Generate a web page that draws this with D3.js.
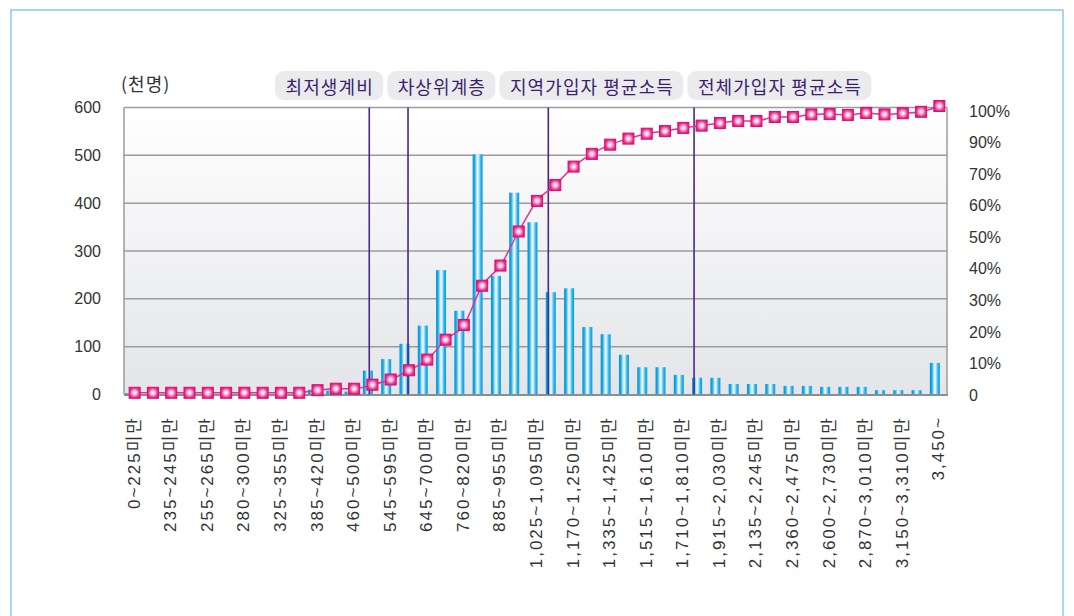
<!DOCTYPE html>
<html>
<head>
<meta charset="utf-8">
<script src="https://cdn.jsdelivr.net/npm/d3@7"></script>
<style>
  html, body { margin: 0; padding: 0; background: #fff; }
  svg { display: block; }
</style>
</head>
<body>
<svg id="chart" width="1074" height="616"></svg>
<script>
// ── Data ──
// income brackets (만원), every other one is labelled on the axis
const categories = [
  "0~225미만", "225~235미만", "235~245미만", "245~255미만", "255~265미만",
  "265~280미만", "280~300미만", "300~325미만", "325~355미만", "355~385미만",
  "385~420미만", "420~460미만", "460~500미만", "500~545미만", "545~595미만",
  "595~645미만", "645~700미만", "700~760미만", "760~820미만", "820~885미만",
  "885~955미만", "955~1,025미만", "1,025~1,095미만", "1,095~1,170미만", "1,170~1,250미만",
  "1,250~1,335미만", "1,335~1,425미만", "1,425~1,515미만", "1,515~1,610미만", "1,610~1,710미만",
  "1,710~1,810미만", "1,810~1,915미만", "1,915~2,030미만", "2,030~2,135미만", "2,135~2,245미만",
  "2,245~2,360미만", "2,360~2,475미만", "2,475~2,600미만", "2,600~2,730미만", "2,730~2,870미만",
  "2,870~3,010미만", "3,010~3,150미만", "3,150~3,310미만", "3,310~3,450미만", "3,450~"
];

// persons (천명)
const counts = [
  3, 1, 1, 1, 1, 1, 1, 1, 1, 1,
  10, 8, 6, 50, 74, 106, 144, 260, 175, 502,
  248, 422, 360, 214, 222, 141, 126, 83, 57, 57,
  41, 35, 35, 22, 22, 22, 18, 18, 16, 16,
  16, 9, 9, 9, 66
];

// cumulative share (%)
const cumulativePct = [
  0.6, 0.6, 0.6, 0.6, 0.6, 0.6, 0.6, 0.6, 0.6, 0.6,
  1.5, 2.0, 2.0, 3.4, 5.2, 8.4, 12.1, 19.0, 24.1, 37.7,
  44.7, 56.5, 67.1, 72.6, 79.0, 83.4, 86.6, 88.7, 90.4, 91.3,
  92.4, 93.2, 94.1, 94.8, 94.8, 96.2, 96.2, 97.1, 97.2, 96.9,
  97.6, 97.1, 97.5, 98.0, 100
];

const leftTicks = [0, 100, 200, 300, 400, 500, 600];
const rightTickLabels = ["0", "10%", "20%", "30%", "40%", "50%", "60%", "70%", "90%", "100%"];

// reference incomes, given as position on the bracket axis (in brackets)
const refLabels = ["최저생계비", "차상위계층", "지역가입자 평균소득", "전체가입자 평균소득"];
const refIndex = [13.41, 15.53, 23.2, 31.17];

// ── Layout ──
const plot = { left: 124, right: 947, top: 107.5, bottom: 394.5 };
const FONT = "'Liberation Sans', Arial, 'Noto Sans CJK KR', sans-serif";
const KFONT = "'Noto Sans CJK KR', 'Noto Sans', sans-serif";

const svg = d3.select("#chart");
const defs = svg.append("defs");

// ── Gradients ──
const bg = defs.append("linearGradient").attr("id", "plotBg")
  .attr("x1", 0).attr("y1", 0).attr("x2", 0).attr("y2", 1);
bg.append("stop").attr("offset", "0%").attr("stop-color", "#ffffff");
bg.append("stop").attr("offset", "100%").attr("stop-color", "#e4e5e8");

const barGrad = defs.append("linearGradient").attr("id", "barGrad")
  .attr("x1", 0).attr("y1", 0).attr("x2", 1).attr("y2", 0);
[["0%", "#0a93d6"], ["18%", "#12a6e6"], ["40%", "#bfe8f9"], ["52%", "#f6fcff"],
 ["66%", "#9adcf6"], ["84%", "#22ade8"], ["100%", "#0a9ee0"]]
  .forEach(([o, c]) => barGrad.append("stop").attr("offset", o).attr("stop-color", c));

const mkGrad = defs.append("radialGradient").attr("id", "mkGrad")
  .attr("cx", "50%").attr("cy", "50%").attr("r", "60%");
[["0%", "#ffffff"], ["30%", "#f9c6df"], ["70%", "#e8398f"], ["100%", "#e0137a"]]
  .forEach(([o, c]) => mkGrad.append("stop").attr("offset", o).attr("stop-color", c));

// ── Outer frame ──
svg.append("rect")
  .attr("x", 11).attr("y", 10)
  .attr("width", 1052).attr("height", 640)
  .style("fill", "none")
  .style("stroke", "#8ccaee")
  .style("stroke-width", 1.5);

// ── Scales ──
const x = d3.scaleBand()
  .domain(categories)
  .range([plot.left, plot.right]);

const xIdx = d3.scaleLinear()
  .domain([0, categories.length])
  .range([plot.left, plot.right]);

const y = d3.scaleLinear()
  .domain([0, 600])
  .range([plot.bottom, plot.top]);

const yPct = d3.scaleLinear()
  .domain([0, 100])
  .range([plot.bottom, plot.top - 1.5]);

const yRightTicks = d3.scalePoint()
  .domain(rightTickLabels)
  .range([plot.bottom + 0.5, plot.top + 3.5]);

// ── Plot background and grid ──
svg.append("rect")
  .attr("x", plot.left).attr("y", plot.top)
  .attr("width", plot.right - plot.left)
  .attr("height", plot.bottom - plot.top)
  .style("fill", "url(#plotBg)");

svg.append("g")
  .selectAll("line")
  .data(leftTicks.filter(d => d > 0))
  .join("line")
  .attr("x1", plot.left).attr("x2", plot.right)
  .attr("y1", d => y(d)).attr("y2", d => y(d))
  .style("stroke", "#9c9c9e")
  .style("stroke-width", 1.5);

// left / right borders
svg.append("path")
  .attr("d", `M${plot.left},${plot.bottom}V${plot.top}M${plot.right},${plot.top}V${plot.bottom}`)
  .style("stroke", "#9c9c9e")
  .style("stroke-width", 1.5)
  .style("fill", "none");

// ── Bars ──
const barW = 10;
svg.append("g")
  .selectAll("rect")
  .data(counts)
  .join("rect")
  .attr("x", (d, i) => x(categories[i]) + x.bandwidth() / 2 - barW / 2 - 3)
  .attr("y", d => y(d))
  .attr("width", barW)
  .attr("height", d => plot.bottom - y(d))
  .style("fill", "url(#barGrad)");

// baseline
svg.append("line")
  .attr("x1", plot.left).attr("x2", plot.right + 1)
  .attr("y1", plot.bottom + 0.5).attr("y2", plot.bottom + 0.5)
  .style("stroke", "#8e8e90")
  .style("stroke-width", 2);

// ── Reference lines ──
svg.append("g")
  .selectAll("line")
  .data(refIndex)
  .join("line")
  .attr("x1", d => xIdx(d)).attr("x2", d => xIdx(d))
  .attr("y1", plot.top).attr("y2", plot.bottom)
  .style("stroke", "#4a2889")
  .style("stroke-width", 1.6);

// ── Cumulative line + markers ──
const mx = i => x(categories[i]) + x.bandwidth() / 2 + 1.5;

svg.append("path")
  .datum(cumulativePct)
  .attr("d", d3.line()
    .x((d, i) => mx(i))
    .y(d => yPct(d))
    .curve(d3.curveMonotoneX))
  .style("fill", "none")
  .style("stroke", "#e5338b")
  .style("stroke-width", 1.5);

const mk = 11;
svg.append("g")
  .selectAll("rect")
  .data(cumulativePct)
  .join("rect")
  .attr("x", (d, i) => mx(i) - mk / 2)
  .attr("y", d => yPct(d) - mk / 2)
  .attr("width", mk).attr("height", mk)
  .style("fill", "url(#mkGrad)")
  .style("stroke", "#dd0a76")
  .style("stroke-width", 1);

// ── Axes ──
svg.append("g")
  .attr("transform", `translate(${plot.left - 23},0)`)
  .call(d3.axisLeft(y).tickValues(leftTicks).tickSize(0).tickPadding(0))
  .call(g => g.select(".domain").remove())
  .call(g => g.selectAll("text")
    .style("font-family", FONT)
    .style("font-size", "16px")
    .style("fill", "#333"));

svg.append("g")
  .attr("transform", `translate(${plot.right + 22},0)`)
  .call(d3.axisRight(yRightTicks).tickSize(0).tickPadding(0))
  .call(g => g.select(".domain").remove())
  .call(g => g.selectAll("text")
    .style("font-family", FONT)
    .style("font-size", "16px")
    .style("fill", "#333"));

// x labels, every other bracket, rotated
const labelSpacing = 2;
svg.append("g")
  .selectAll("text")
  .data(categories.filter((d, i) => i % 2 === 0))
  .join("text")
  .attr("transform", d => `translate(${x(d) + x.bandwidth() / 2 + 1},${414 + labelSpacing}) rotate(-90)`)
  .attr("text-anchor", "end")
  .attr("dominant-baseline", "central")
  .style("font-family", FONT)
  .style("font-size", "17px")
  .style("letter-spacing", labelSpacing + "px")
  .style("fill", "#333")
  .text(d => d);

// unit
svg.append("text")
  .attr("x", 121).attr("y", 83)
  .attr("dominant-baseline", "central")
  .style("font-family", KFONT)
  .style("font-size", "18px")
  .style("letter-spacing", "1px")
  .style("fill", "#333")
  .text("(천명)");

// ── Reference labels (boxes) ──
const tagG = svg.append("g");
let cursor = 275;
refLabels.forEach(label => {
  const g = tagG.append("g");
  const t = g.append("text")
    .attr("y", 85.5)
    .attr("dominant-baseline", "central")
    .style("font-family", KFONT)
    .style("font-size", "18px")
    .style("letter-spacing", "1.1px")
    .style("fill", "#3a1f6e")
    .text(label);
  const w = t.node().getComputedTextLength() - 1.1;
  g.insert("rect", "text")
    .attr("x", cursor).attr("y", 71)
    .attr("width", w + 21).attr("height", 29)
    .attr("rx", 9)
    .style("fill", "#ebebee");
  t.attr("x", cursor + 10.5);
  cursor += w + 21 + 4;
});
</script>
</body>
</html>
